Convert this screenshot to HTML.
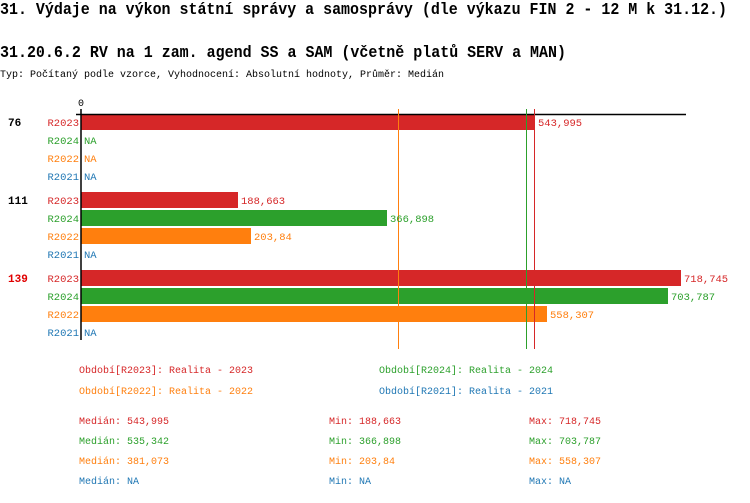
<!DOCTYPE html>
<html><head><meta charset="utf-8"><style>
body{margin:0;background:#fff;}
svg text{font-family:"Liberation Mono","DejaVu Sans Mono",monospace;}
</style></head><body>
<svg width="750" height="498" xmlns="http://www.w3.org/2000/svg">
<text x="0" y="14" font-size="16.5" font-weight="bold" textLength="727" lengthAdjust="spacingAndGlyphs">31. Výdaje na výkon státní správy a samosprávy (dle výkazu FIN 2 - 12 M k 31.12.)</text>
<text x="0" y="57" font-size="16.5" font-weight="bold" textLength="566" lengthAdjust="spacingAndGlyphs">31.20.6.2 RV na 1 zam. agend SS a SAM (včetně platů SERV a MAN)</text>
<text x="0" y="77" font-size="10" textLength="444" lengthAdjust="spacingAndGlyphs">Typ: Počítaný podle vzorce, Vyhodnocení: Absolutní hodnoty, Průměr: Medián</text>
<text x="81" y="106" font-size="10" text-anchor="middle">0</text>
<!-- bars -->
<rect x="81" y="114" width="454" height="16" fill="#d62728"/>
<rect x="81" y="192" width="157" height="16" fill="#d62728"/>
<rect x="81" y="210" width="306" height="16" fill="#2ca02c"/>
<rect x="81" y="228" width="170" height="16" fill="#ff7f0e"/>
<rect x="81" y="270" width="600" height="16" fill="#d62728"/>
<rect x="81" y="288" width="587" height="16" fill="#2ca02c"/>
<rect x="81" y="306" width="466" height="16" fill="#ff7f0e"/>
<line x1="76" y1="114.5" x2="686" y2="114.5" stroke="#000" stroke-width="1.5"/>
<line x1="81" y1="109" x2="81" y2="340" stroke="#000" stroke-width="1.5"/>
<line x1="398.5" y1="109" x2="398.5" y2="349" stroke="#ff7f0e" stroke-width="1"/>
<line x1="526.5" y1="109" x2="526.5" y2="349" stroke="#2ca02c" stroke-width="1"/>
<line x1="534.5" y1="109" x2="534.5" y2="349" stroke="#d62728" stroke-width="1"/>
<g font-size="10.5">
<text x="8" y="126" font-weight="bold" font-size="11">76</text>
<text x="8" y="204" font-weight="bold" font-size="11">111</text>
<text x="8" y="282" font-weight="bold" font-size="11" fill="#e00000">139</text>
<g text-anchor="end">
<text x="79" y="126" fill="#d62728">R2023</text><text x="79" y="144" fill="#2ca02c">R2024</text><text x="79" y="162" fill="#ff7f0e">R2022</text><text x="79" y="180" fill="#1f77b4">R2021</text>
<text x="79" y="204" fill="#d62728">R2023</text><text x="79" y="222" fill="#2ca02c">R2024</text><text x="79" y="240" fill="#ff7f0e">R2022</text><text x="79" y="258" fill="#1f77b4">R2021</text>
<text x="79" y="282" fill="#d62728">R2023</text><text x="79" y="300" fill="#2ca02c">R2024</text><text x="79" y="318" fill="#ff7f0e">R2022</text><text x="79" y="336" fill="#1f77b4">R2021</text>
</g>
<text x="538" y="126" fill="#d62728">543,995</text>
<text x="84" y="144" fill="#2ca02c">NA</text><text x="84" y="162" fill="#ff7f0e">NA</text><text x="84" y="180" fill="#1f77b4">NA</text>
<text x="241" y="204" fill="#d62728">188,663</text>
<text x="390" y="222" fill="#2ca02c">366,898</text>
<text x="254" y="240" fill="#ff7f0e">203,84</text>
<text x="84" y="258" fill="#1f77b4">NA</text>
<text x="684" y="282" fill="#d62728">718,745</text>
<text x="671" y="300" fill="#2ca02c">703,787</text>
<text x="550" y="318" fill="#ff7f0e">558,307</text>
<text x="84" y="336" fill="#1f77b4">NA</text>
</g>
<g font-size="10">
<text x="79" y="373" fill="#d62728">Období[R2023]: Realita - 2023</text>
<text x="379" y="373" fill="#2ca02c">Období[R2024]: Realita - 2024</text>
<text x="79" y="394" fill="#ff7f0e">Období[R2022]: Realita - 2022</text>
<text x="379" y="394" fill="#1f77b4">Období[R2021]: Realita - 2021</text>
<text x="79" y="424" fill="#d62728">Medián: 543,995</text><text x="329" y="424" fill="#d62728">Min: 188,663</text><text x="529" y="424" fill="#d62728">Max: 718,745</text>
<text x="79" y="444" fill="#2ca02c">Medián: 535,342</text><text x="329" y="444" fill="#2ca02c">Min: 366,898</text><text x="529" y="444" fill="#2ca02c">Max: 703,787</text>
<text x="79" y="464" fill="#ff7f0e">Medián: 381,073</text><text x="329" y="464" fill="#ff7f0e">Min: 203,84</text><text x="529" y="464" fill="#ff7f0e">Max: 558,307</text>
<text x="79" y="484" fill="#1f77b4">Medián: NA</text><text x="329" y="484" fill="#1f77b4">Min: NA</text><text x="529" y="484" fill="#1f77b4">Max: NA</text>
</g>
</svg>
</body></html>
